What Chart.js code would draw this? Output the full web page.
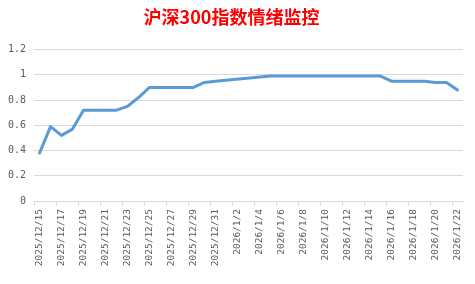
<!DOCTYPE html>
<html>
<head>
<meta charset="utf-8">
<script src="https://cdn.jsdelivr.net/npm/chart.js@4/dist/chart.umd.min.js"></script>
<style>
  html, body { margin: 0; padding: 0; background: #fff; }
  #wrap { width: 475px; height: 284px; }
</style>
</head>
<body>
<div id="wrap"><canvas id="sentimentChart"></canvas></div>
<script>
// daily categories (non-trading days left as null in the series)
const dates = [
    '2025/12/15', '2025/12/16', '2025/12/17', '2025/12/18', '2025/12/19',
    '2025/12/20', '2025/12/21', '2025/12/22', '2025/12/23', '2025/12/24',
    '2025/12/25', '2025/12/26', '2025/12/27', '2025/12/28', '2025/12/29',
    '2025/12/30', '2025/12/31', '2026/1/1', '2026/1/2', '2026/1/3',
    '2026/1/4', '2026/1/5', '2026/1/6', '2026/1/7', '2026/1/8',
    '2026/1/9', '2026/1/10', '2026/1/11', '2026/1/12', '2026/1/13',
    '2026/1/14', '2026/1/15', '2026/1/16', '2026/1/17', '2026/1/18',
    '2026/1/19', '2026/1/20', '2026/1/21', '2026/1/22'
];

const sentiment = [
    0.38, 0.59, 0.52, 0.57, 0.72,
    null, null, 0.72, 0.75, 0.82,
    0.90, 0.90, null, null, 0.90,
    0.94, 0.95, null, null, null,
    null, 0.99, 0.99, 0.99, 0.99,
    0.99, null, null, 0.99, 0.99,
    0.99, 0.99, 0.95, null, null,
    0.95, 0.94, 0.94, 0.88
];

const yTicks = [0, 0.2, 0.4, 0.6, 0.8, 1, 1.2];

const axisFont = { family: "'DejaVu Sans Mono', monospace", size: 10 };

function initChart() {
    const ctx = document.getElementById('sentimentChart').getContext('2d');

    new Chart(ctx, {
        type: 'line',
        data: {
            labels: dates,
            datasets: [{
                data: sentiment,
                borderColor: '#5B9BD5',
                borderWidth: 3,
                pointRadius: 0,
                tension: 0,
                spanGaps: true,
                borderJoinStyle: 'round',
                borderCapStyle: 'round'
            }]
        },
        options: {
            responsive: true,
            maintainAspectRatio: false,
            animation: false,
            layout: { padding: { left: 0, right: 12, top: 0, bottom: 0 } },
            plugins: {
                legend: { display: false },
                tooltip: { enabled: false },
                title: {
                    display: true,
                    text: '沪深300指数情绪监控',
                    color: '#FF0000',
                    font: { family: "'Noto Sans CJK SC', sans-serif", size: 18, weight: 'bold' },
                    padding: { top: 6, bottom: 22 }
                }
            },
            scales: {
                x: {
                    offset: true,
                    grid: {
                        offset: true,
                        drawOnChartArea: false,
                        tickLength: 5,
                        color: (c) => (c.index % 2 === 0 && c.index < dates.length) ? '#d9d9d9' : 'rgba(0,0,0,0)'
                    },
                    border: { color: '#d9d9d9' },
                    ticks: {
                        autoSkip: false,
                        maxRotation: 90,
                        minRotation: 90,
                        padding: 3,
                        color: '#595959',
                        font: { family: "'DejaVu Sans Mono', monospace", size: 9.5 },
                        callback: function(value, index) {
                            return index % 2 === 0 ? dates[index] : '';
                        }
                    },
                    afterFit: (scale) => { scale.height = 83; }
                },
                y: {
                    min: 0,
                    max: 1.2,
                    afterBuildTicks: (scale) => { scale.ticks = yTicks.map(v => ({ value: v })); },
                    grid: { color: '#d9d9d9', drawTicks: false },
                    border: { display: false },
                    ticks: {
                        padding: 8,
                        color: '#595959',
                        font: axisFont,
                        callback: (v) => String(Math.round(v * 10) / 10)
                    },
                    afterFit: (scale) => { scale.width = 34; }
                }
            }
        }
    });
}

if (document.readyState === 'loading') {
    document.addEventListener('DOMContentLoaded', initChart);
} else {
    initChart();
}
</script>
</body>
</html>
